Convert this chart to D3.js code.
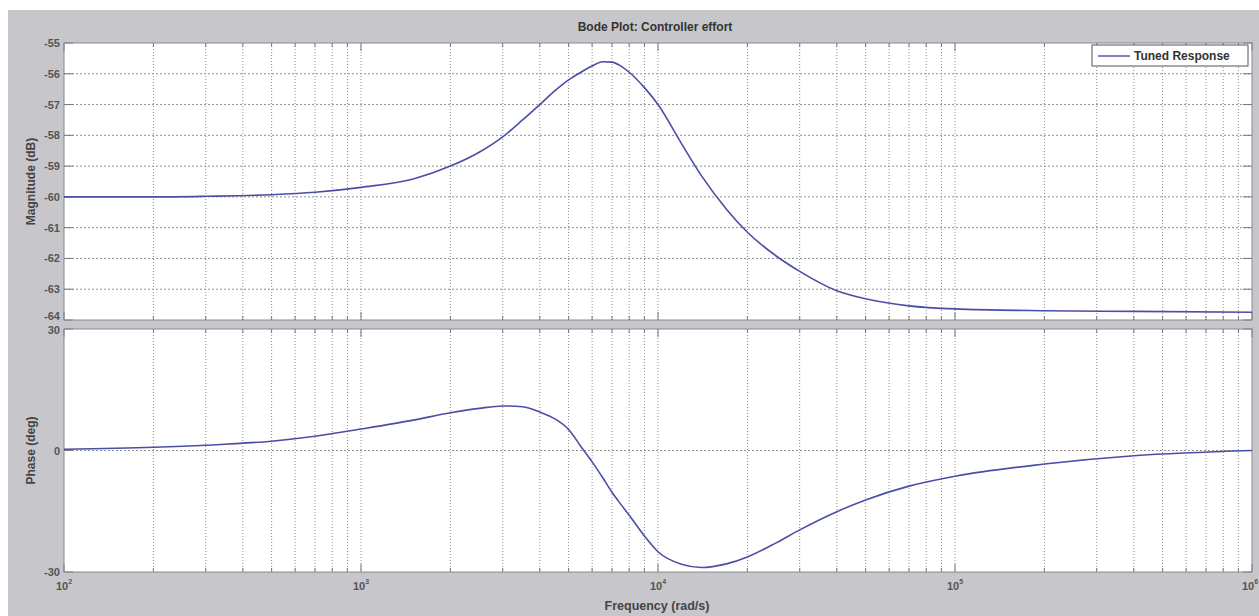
<!DOCTYPE html>
<html>
<head>
<meta charset="utf-8">
<script src="https://cdn.jsdelivr.net/npm/d3@7"></script>
<style>
  body { margin: 0; background: #fff; }
  text { font-family: "Liberation Sans", Arial, sans-serif; }
</style>
</head>
<body>
<div id="viz-container"></div>
<script>
// frequencies in rad/s
let freq = [100, 200, 300, 500, 700, 1000, 1500, 2000, 2500, 3000, 3500, 4000, 4500, 5000, 5500, 6000, 6500, 7000, 7500, 8000, 9000, 10000, 12000, 14000, 17000, 20000, 25000, 30000, 40000, 50000, 70000, 100000, 200000, 400000, 1000000];
let magDb = [-60.0, -60.0, -59.98, -59.93, -59.85, -59.69, -59.42, -59.0, -58.55, -58.05, -57.5, -57.0, -56.55, -56.2, -55.95, -55.75, -55.61, -55.62, -55.75, -55.95, -56.45, -57.0, -58.27, -59.31, -60.4, -61.15, -61.92, -62.42, -63.05, -63.31, -63.54, -63.64, -63.7, -63.72, -63.75];
let phaseDeg = [0.3, 0.8, 1.3, 2.3, 3.5, 5.3, 7.5, 9.3, 10.4, 11.0, 10.8, 9.5, 7.8, 5.2, 1.0, -2.8, -6.6, -10.3, -13.3, -16.0, -21.1, -25.0, -28.1, -28.9, -28.0, -26.3, -22.8, -19.6, -15.1, -12.2, -8.8, -6.35, -3.35, -1.3, 0.0];

let magTicks = [-55, -56, -57, -58, -59, -60, -61, -62, -63, -64];
let phaseTicks = [30, 0, -30];
let decades = [100, 1000, 10000, 100000, 1000000];
let decadeExp = [2, 3, 4, 5, 6];

let W = 1259, H = 616;
let left = 64, right = 1252;
let magTop = 43, magBot = 320;
let phTop = 329, phBot = 572;

let lineColor = "#4b4ea6";
let gridColor = "#8f8f8f";
let labelColor = "#555";

let viz = d3.select("#viz-container")
    .append("svg")
        .attr("width", W)
        .attr("height", H)
;

// grey figure background
viz.append("rect")
    .attr("x", 8).attr("y", 10)
    .attr("width", W - 8).attr("height", H - 10)
    .attr("fill", "#c7c7cb");

let x = d3.scaleLog().domain([100, 1000000]).range([left, right]);
let yMag = d3.scaleLinear().domain([-64, -55]).range([magBot, magTop]);
let yPh = d3.scaleLinear().domain([-30, 30]).range([phBot, phTop]);

// minor tick values 2..9 per decade
let minor = [];
decades.slice(0, 4).forEach(d => {
    for (let k = 2; k <= 9; k++) minor.push(d * k);
});

// nudge the labels that sit on the shared edge so they don't collide
function labelY(yScale, d) {
    if (d === -64) return yScale(d);
    if (d === 30) return yScale(d) + 5;
    return yScale(d) + 4;
}

function drawAxes(yScale, top, bot, yTicks, hGrid) {
    let g = viz.append("g");
    g.append("rect")
        .attr("x", left).attr("y", top)
        .attr("width", right - left).attr("height", bot - top)
        .attr("fill", "#fff");

    // vertical grid
    g.selectAll(".vgrid").data(minor.concat(decades.slice(1, 4))).enter()
        .append("line")
            .attr("x1", d => x(d)).attr("x2", d => x(d))
            .attr("y1", top).attr("y2", bot)
            .attr("stroke", gridColor)
            .attr("stroke-width", 1)
            .attr("stroke-dasharray", "1,2");

    // horizontal grid
    g.selectAll(".hgrid").data(hGrid).enter()
        .append("line")
            .attr("x1", left).attr("x2", right)
            .attr("y1", d => yScale(d)).attr("y2", d => yScale(d))
            .attr("stroke", gridColor)
            .attr("stroke-width", 1)
            .attr("stroke-dasharray", "2,2");

    // minor ticks top and bottom
    g.selectAll(".mtick").data(minor).enter()
        .append("path")
            .attr("d", d => `M${x(d)},${top}v4M${x(d)},${bot}v-4`)
            .attr("stroke", "#777");
    g.selectAll(".Mtick").data(decades).enter()
        .append("path")
            .attr("d", d => `M${x(d)},${top}v8M${x(d)},${bot}v-8`)
            .attr("stroke", "#777");

    // y ticks left and right
    g.selectAll(".ytick").data(yTicks).enter()
        .append("path")
            .attr("d", d => `M${left},${yScale(d)}h9M${right},${yScale(d)}h-9`)
            .attr("stroke", "#777");

    g.selectAll(".ylab").data(yTicks).enter()
        .append("text")
            .attr("x", left - 4)
            .attr("y", d => labelY(yScale, d))
            .attr("text-anchor", "end")
            .attr("font-size", 11)
            .attr("font-weight", "bold")
            .attr("fill", labelColor)
            .text(d => d);

    // frame
    g.append("rect")
        .attr("x", left).attr("y", top)
        .attr("width", right - left).attr("height", bot - top)
        .attr("fill", "none")
        .attr("stroke", "#8a8a8e")
        .attr("stroke-width", 1);
    return g;
}

drawAxes(yMag, magTop, magBot, magTicks, magTicks.slice(1, -1));
drawAxes(yPh, phTop, phBot, phaseTicks, [0]);

// curves
let magLine = d3.line()
    .x((d, i) => x(freq[i]))
    .y(d => yMag(d))
    .curve(d3.curveMonotoneX);
viz.append("path")
    .attr("d", magLine(magDb))
    .attr("fill", "none")
    .attr("stroke", lineColor)
    .attr("stroke-width", 1.6);

let phLine = d3.line()
    .x((d, i) => x(freq[i]))
    .y(d => yPh(d))
    .curve(d3.curveMonotoneX);
viz.append("path")
    .attr("d", phLine(phaseDeg))
    .attr("fill", "none")
    .attr("stroke", lineColor)
    .attr("stroke-width", 1.6);

// x tick labels 10^n
let xl = viz.selectAll(".xlab").data(decades).enter()
    .append("text")
        .attr("x", (d, i) => x(d) - 8 - (i == 4 ? 2 : 0))
        .attr("y", 590)
        .attr("font-size", 11)
        .attr("font-weight", "bold")
        .attr("fill", labelColor);
xl.append("tspan").text("10");
xl.append("tspan")
    .attr("dy", -6)
    .attr("font-size", 7)
    .text((d, i) => decadeExp[i]);

// title and axis labels
viz.append("text")
    .attr("x", 655).attr("y", 31)
    .attr("text-anchor", "middle")
    .attr("font-size", 12)
    .attr("font-weight", "bold")
    .attr("fill", "#333")
    .text("Bode Plot: Controller effort");

viz.append("text")
    .attr("x", 657).attr("y", 610)
    .attr("text-anchor", "middle")
    .attr("font-size", 12.5)
    .attr("font-weight", "bold")
    .attr("fill", "#444")
    .text("Frequency  (rad/s)");

viz.append("text")
    .attr("transform", `translate(35,${(magTop + magBot) / 2}) rotate(-90)`)
    .attr("text-anchor", "middle")
    .attr("font-size", 12)
    .attr("font-weight", "bold")
    .attr("fill", "#444")
    .text("Magnitude (dB)");

viz.append("text")
    .attr("transform", `translate(35,${(phTop + phBot) / 2}) rotate(-90)`)
    .attr("text-anchor", "middle")
    .attr("font-size", 12)
    .attr("font-weight", "bold")
    .attr("fill", "#444")
    .text("Phase (deg)");

// legend
let lg = viz.append("g");
lg.append("rect")
    .attr("x", 1092).attr("y", 45)
    .attr("width", 156).attr("height", 21)
    .attr("fill", "#fff")
    .attr("stroke", "#555");
lg.append("line")
    .attr("x1", 1098).attr("x2", 1130)
    .attr("y1", 56).attr("y2", 56)
    .attr("stroke", lineColor)
    .attr("stroke-width", 1.4);
lg.append("text")
    .attr("x", 1134).attr("y", 60)
    .attr("font-size", 12)
    .attr("font-weight", "bold")
    .attr("fill", "#333")
    .text("Tuned Response");
</script>
</body>
</html>
